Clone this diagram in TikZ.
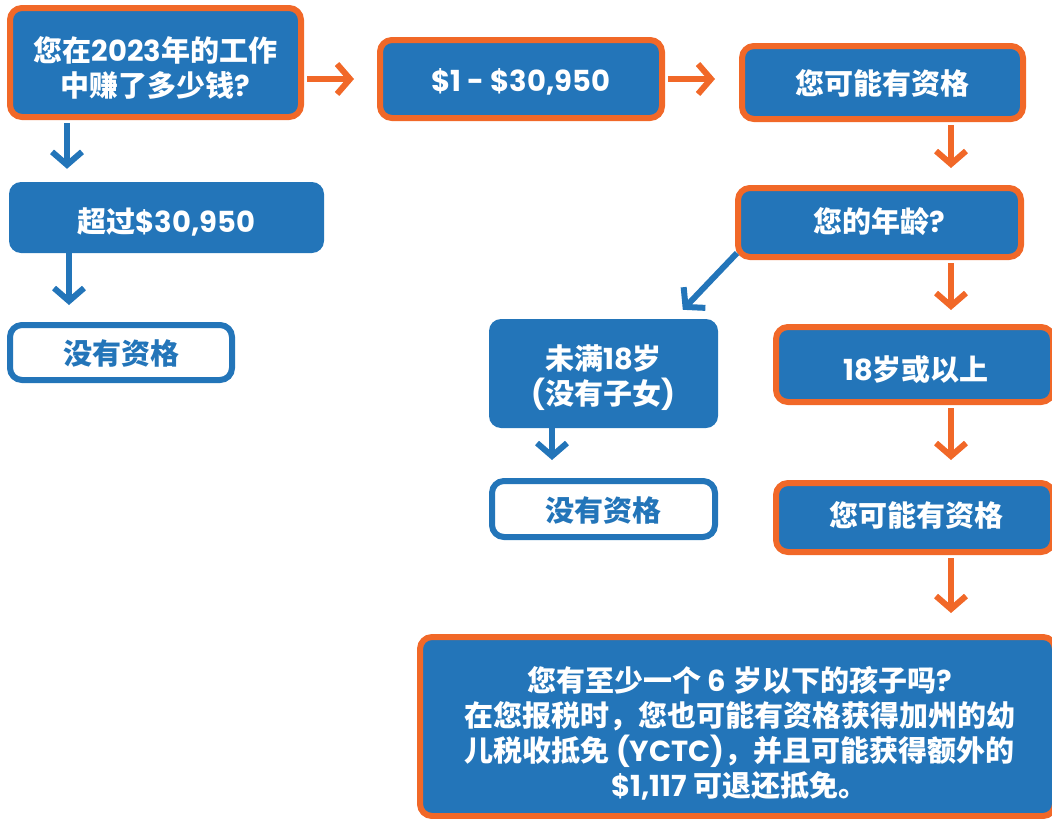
\documentclass[tikz,border=0pt]{standalone}
\usepackage{fontspec}
\setmainfont{Noto Sans CJK SC}
\newfontfamily\pn{Poppins}
\usetikzlibrary{arrows.meta}
\definecolor{fblue}{RGB}{35,117,185}
\definecolor{forange}{RGB}{241,104,40}
\newcommand\ltn[1]{{\pn\bfseries #1}}
\begin{document}
\begin{tikzpicture}[x=1pt,y=-1pt,
  box/.style={rounded corners=12pt, fill=fblue, inner sep=0pt},
  obox/.style={box, draw=forange, line width=6pt},
  wbox/.style={box, fill=white, draw=fblue, line width=6pt},
  txt/.style={text=white, align=center, inner sep=0pt, font=\bfseries\fontsize{29}{35}\selectfont},
  btxt/.style={txt, text=fblue},
  arr/.style={line width=6pt, -{Straight Barb[length=13pt,width=30pt]}},
  barr/.style={arr, draw=fblue},
  oarr/.style={arr, draw=forange}]
\useasboundingbox (0,0) rectangle (1052,819);
\clip (0,0) rectangle (1052,819);
% boxes
\node[obox, minimum width=291pt, minimum height=109pt] (q1) at (155.5,62.5) {};
\node[box, minimum width=315pt, minimum height=71pt] (over) at (166.5,217.5) {};
\node[wbox, minimum width=222pt, minimum height=55pt] (no1) at (121,352.5) {};
\node[obox, minimum width=282pt, minimum height=78pt] (range) at (521,79) {};
\node[obox, minimum width=281pt, minimum height=73pt] (elig1) at (882.5,82.5) {};
\node[obox, minimum width=283pt, minimum height=69pt] (age) at (879.5,222.5) {};
\node[box, minimum width=229pt, minimum height=109pt] (under) at (603.5,373.5) {};
\node[wbox, minimum width=223pt, minimum height=56pt] (no2) at (603.5,509) {};
\node[obox, minimum width=277pt, minimum height=75pt] (adult) at (914.5,364.5) {};
\node[obox, minimum width=277pt, minimum height=69pt] (elig2) at (914.5,517.5) {};
\node[obox, minimum width=635pt, minimum height=179pt] (big) at (737.5,726.5) {};
% texts
\node[txt] (q1t) at ([shift={(0,5)}]q1.center) {您在\ltn{2023}年的工作\\中赚了多少钱\ltn{?}};
\node[txt] (overt) at ([shift={(0,4)}]over.center) {超过\ltn{\$30,950}};
\node[btxt] (no1t) at ([shift={(0,1)}]no1.center) {没有资格};
\node[txt] (ranget) at ([shift={(0,3)}]range.center) {\ltn{\$1 - \$30,950}};
\node[txt] (elig1t) at ([shift={(0,1)}]elig1.center) {您可能有资格};
\node[txt] (aget) at ([shift={(0,-1)}]age.center) {您的年龄\ltn{?}};
\node[txt] (undert) at ([shift={(0,4)}]under.center) {未满\ltn{18}岁\\\ltn{(}没有子女\ltn{)}};
\node[btxt] (no2t) at ([shift={(0,1)}]no2.center) {没有资格};
\node[txt] (adultt) at ([shift={(1.5,5)}]adult.center) {\ltn{18}岁或以上};
\node[txt] (elig2t) at ([shift={(2,-2)}]elig2.center) {您可能有资格};
\node[txt] (bigt) at ([shift={(2,7)}]big.center) {您有至少一个 \ltn{6} 岁以下的孩子吗\ltn{?}\\在您报税时，您也可能有资格获得加州的幼\\儿税收抵免 \ltn{(YCTC)}，并且可能获得额外的\\\ltn{\$1,117} 可退还抵免。};
% helper coordinates
\coordinate (xa) at (67,0);
\coordinate (xb) at (69,0);
\coordinate (xc) at (951,0);
\coordinate (xd) at (552,0);
\coordinate (ya) at (0,79);
% connectors
\draw[barr, shorten <=3pt, shorten >=13pt] (q1.south -| xa) -- (over.north -| xa);
\draw[barr, shorten >=17pt] (over.south -| xb) -- (no1.north -| xb);
\draw[oarr, shorten <=3pt, shorten >=23pt] (q1.east |- ya) -- (range.west |- ya);
\draw[oarr, shorten <=3pt, shorten >=24pt] (range.east |- ya) -- (elig1.west |- ya);
\draw[oarr, shorten <=3pt, shorten >=17pt] (elig1.south -| xc) -- (age.north -| xc);
\draw[oarr, shorten <=3pt, shorten >=14pt] (age.south -| xc) -- (adult.north -| xc);
\draw[barr] ([shift={(2,-7)}]age.south west) -- ([shift={(194,-9)}]under.north west);
\draw[barr, shorten >=18pt] (under.south -| xd) -- (no2.north -| xd);
\draw[oarr, shorten <=3pt, shorten >=20pt] (adult.south -| xc) -- (elig2.north -| xc);
\draw[oarr, shorten <=3pt, shorten >=21pt] (elig2.south -| xc) -- (big.north -| xc);
\end{tikzpicture}
\end{document}
